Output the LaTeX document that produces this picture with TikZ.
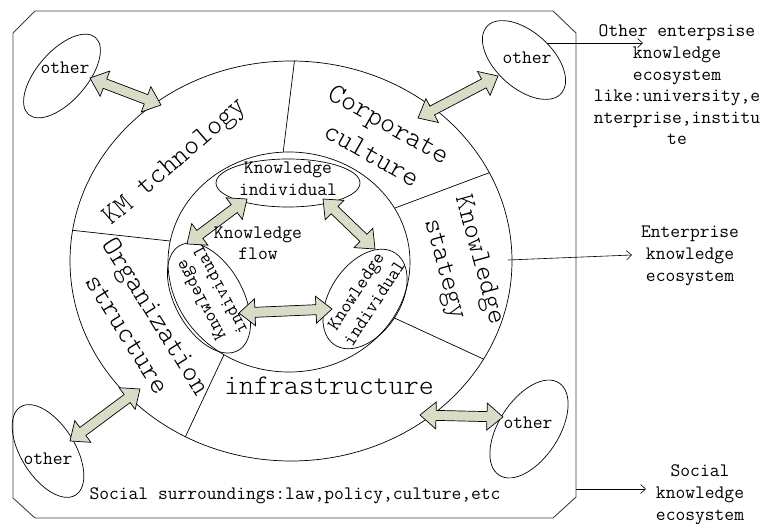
\documentclass[tikz,border=0pt]{standalone}
\usepackage{fontspec}
\newfontfamily\lightmono{Latin Modern Mono Light}
\usetikzlibrary{shapes.geometric,calc,arrows.meta}
\definecolor{arrfill}{RGB}{216,221,200}
\tikzset{
  ln/.style={line width=0.7pt},
  outerframe/.style={line width=0.9pt, draw=black!75},
  ell/.style={ellipse, draw, line width=0.7pt, inner sep=0pt},
  sm/.style={font=\ttfamily\fontsize{19pt}{22pt}\selectfont, align=center, inner sep=0pt},
  bg/.style={font=\lightmono\fontsize{28.5pt}{35pt}\selectfont, align=center, inner sep=0pt},
  blockarr/.style={draw, fill=arrfill, line width=0.7pt, line join=miter},
  thinarr/.style={line width=0.6pt, -{Straight Barb[length=5pt,width=9pt]}},
}
\newcommand{\dblarr}[2]{%
  \draw[blockarr] let \p1=($(#2)-(#1)$), \n1={atan2(\y1,\x1)}, \n2={veclen(\x1,\y1)} in
    [shift={(#1)}, rotate=\n1] (0,0) -- (16,13.5) -- (16,5) -- (\n2-16,5) -- (\n2-16,13.5) -- (\n2,0) -- (\n2-16,-13.5) -- (\n2-16,-5) -- (16,-5) -- (16,-13.5) -- cycle;}
\begin{document}
\begin{tikzpicture}[x=1pt,y=1pt]
\useasboundingbox (0,0) rectangle (761,523);
% outer frame
\draw[outerframe] (35,512) -- (553,512) -- (576,490) -- (576,26) -- (553,5) -- (35,5) -- (13,25) -- (13,490) -- cycle;
% circles
\node[ell, minimum width=442pt, minimum height=400pt] (big) at (291,262) {};
\node[ell, minimum width=242pt, minimum height=220pt] (inner) at (289,261) {};
% sector lines
\draw[ln] (inner.93) -- (big.89);
\draw[ln] (inner.170) -- (big.172);
\draw[ln] (inner.27) -- (big.24);
\draw[ln] (inner.-28) -- (big.-27);
\draw[ln] (inner.-125) -- (big.-121);
% inner ellipses
\node[ell, minimum width=144pt, minimum height=48pt] (kt) at (288,340) {};
\node[ell, minimum width=120pt, minimum height=68pt, rotate=-61] (kl) at (209,225) {};
\node[ell, minimum width=110pt, minimum height=70pt, rotate=56.5] (kr) at (365,224) {};
% other ellipses
\node[ell, minimum width=102pt, minimum height=50pt, rotate=49] (o1) at (62,447) {};
\node[ell, minimum width=100pt, minimum height=56pt, rotate=-42] (o2) at (524,463) {};
\node[ell, minimum width=104pt, minimum height=54pt, rotate=-58] (o3) at (48,72) {};
\node[ell, minimum width=110pt, minimum height=60pt, rotate=57] (o4) at (529,94) {};
\node[sm] (o1t) at (65,455) {other};
\node[sm] (o2t) at (527,465) {other};
\node[sm] (o3t) at (48,64) {other};
\node[sm] (o4t) at (528,100) {other};
% block arrows
\coordinate (a1s) at (90,445);  \coordinate (a1e) at (161,418);
\coordinate (a2s) at (418,405); \coordinate (a2e) at (498,447);
\coordinate (a3s) at (70,82);   \coordinate (a3e) at (140,134);
\coordinate (a4s) at (420,108); \coordinate (a4e) at (503,106);
\coordinate (a5s) at (247,324); \coordinate (a5e) at (187,279);
\coordinate (a6s) at (323,324); \coordinate (a6e) at (375,274);
\coordinate (a7s) at (239,210); \coordinate (a7e) at (332,214);
\dblarr{a1s}{a1e}
\dblarr{a2s}{a2e}
\dblarr{a3s}{a3e}
\dblarr{a4s}{a4e}
\dblarr{a5s}{a5e}
\dblarr{a6s}{a6e}
\dblarr{a7s}{a7e}
% big labels
\node[bg, rotate=41] (km) at (176,360) {KM tchnology};
\node[bg, rotate=-29.5] (cc) at (381,384) {Corporate\\culture};
\node[bg, rotate=-74.6, font=\lightmono\fontsize{28pt}{36pt}\selectfont] (ks) at (461,258) {Knowledge\\stategy};
\node[bg, rotate=-58, font=\lightmono\fontsize{28.5pt}{34pt}\selectfont] (os) at (142,198) {Organization\\structure};
\node[bg, anchor=base] (inf) at (329,129) {infrastructure};
% inner labels
\node[sm, font=\ttfamily\fontsize{19pt}{21pt}\selectfont] (kf) at (258,280) {Knowledge\\flow};
\node[sm] (ktt) at (288,344) {Knowledge\\individual};
\node[sm, rotate=118] (klt) at (210,228) {Knowledge\\individual};
\node[sm, rotate=57] (krt) at (365,226) {Knowledge\\individual};
\node[sm] (soc) at (295,27) {Social surroundings:law,policy,culture,etc};
% right labels
\node[sm, font=\ttfamily\fontsize{19pt}{21.6pt}\selectfont] (t1) at (677,438) {Other enterpsise\\knowledge\\ecosystem\\like:university,e\\nterprise,institu\\te};
\node[sm] (t2) at (690,267) {Enterprise\\knowledge\\ecosystem};
\node[sm] (t3) at (700,28) {Social\\knowledge\\ecosystem};
% right connectors
\coordinate (r1s) at (547,480); \coordinate (r1e) at (643,480);
\coordinate (r2s) at (508,263); \coordinate (r2e) at (632,268);
\coordinate (r3s) at (576,34);  \coordinate (r3e) at (646,34);
\draw[thinarr] (r1s) -- (r1e);
\draw[thinarr] (r2s) -- (r2e);
\draw[thinarr] (r3s) -- (r3e);
\end{tikzpicture}
\end{document}
